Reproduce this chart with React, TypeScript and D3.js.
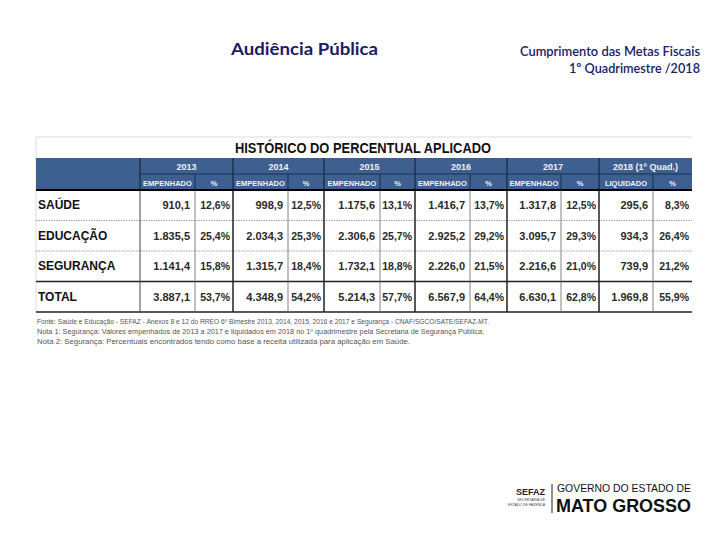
import React from "react";
import * as d3 from "d3";

const categories = ["SAÚDE", "EDUCAÇÃO", "SEGURANÇA", "TOTAL"];
const years = ["2013", "2014", "2015", "2016", "2017", "2018 (1º Quad.)"];
const subHeaders = ["EMPENHADO", "EMPENHADO", "EMPENHADO", "EMPENHADO", "EMPENHADO", "LIQUIDADO"];
// values per year, in category order (R$ milhões)
const values2013 = [910.1, 1835.5, 1141.4, 3887.1];
const values2014 = [998.9, 2034.3, 1315.7, 4348.9];
const values2015 = [1175.6, 2306.6, 1732.1, 5214.3];
const values2016 = [1416.7, 2925.2, 2226.0, 6567.9];
const values2017 = [1317.8, 3095.7, 2216.6, 6630.1];
const values2018 = [295.6, 934.3, 739.9, 1969.8];
const pct2013 = [12.6, 25.4, 15.8, 53.7];
const pct2014 = [12.5, 25.3, 18.4, 54.2];
const pct2015 = [13.1, 25.7, 18.8, 57.7];
const pct2016 = [13.7, 29.2, 21.5, 64.4];
const pct2017 = [12.5, 29.3, 21.0, 62.8];
const pct2018 = [8.3, 26.4, 21.2, 55.9];
const notes = [
  "Fonte: Saúde e Educação - SEFAZ - Anexos 8 e 12 do RREO 6º Bimestre 2013, 2014, 2015, 2016 e 2017 e Segurança - CNAF/SGCO/SATE/SEFAZ-MT.",
  "Nota 1: Segurança: Valores empenhados de 2013 a 2017 e liquidados em 2018 no 1º quadrimestre pela Secretaria de Segurança Pública;",
  "Nota 2: Segurança: Percentuais encontrados tendo como base a receita utilizada para aplicação em Saúde.",
];

const allValues = [values2013, values2014, values2015, values2016, values2017, values2018];
const allPcts = [pct2013, pct2014, pct2015, pct2016, pct2017, pct2018];

const locale = d3.formatLocale({ decimal: ",", thousands: ".", grouping: [3], currency: ["R$", ""] });
const fmtVal = locale.format(",.1f");
const fmtPct = (v: number) => locale.format(".1f")(v) + "%";

export default function App() {
  const W = 720, H = 540;
  const tableL = 36, tableR = 692, labelR = 140;
  const yearStarts = [140, 233, 324, 415, 507, 599];
  const yearEnds = [233, 324, 415, 507, 599, 692];
  const splitW = [55, 55, 56, 55, 54, 54];
  const rowY = d3.scaleBand<string>().domain(categories).range([190, 312]);
  const header = "#3d6090";
  const bodyFont = "'Liberation Sans', Arial, sans-serif";
  const cal = "Lato, 'Open Sans', sans-serif";

  return (
    <svg width={W} height={H} style={{ position: "absolute", left: 0, top: 0, background: "#fff" }}>
      {/* top titles */}
      <text x={231} y={55} fontFamily={cal} fontWeight={700} fontSize={17} fill="#1b1b66" textLength={147} lengthAdjust="spacingAndGlyphs">Audiência Pública</text>
      <text x={700} y={56} textAnchor="end" fontFamily={cal} fontWeight={600} fontSize={13} fill="#1b1b66" textLength={180} lengthAdjust="spacingAndGlyphs">Cumprimento das Metas Fiscais</text>
      <text x={700} y={73} textAnchor="end" fontFamily={cal} fontWeight={600} fontSize={13} fill="#1b1b66" textLength={131} lengthAdjust="spacingAndGlyphs">1º Quadrimestre /2018</text>

      {/* title row */}
      <line x1={tableL} x2={tableR} y1={137} y2={137} stroke="#ddd" strokeWidth={1} />
      <line x1={tableL} x2={tableL} y1={137} y2={312} stroke="#ddd" strokeWidth={1} />
      <text x={363} y={153} textAnchor="middle" fontFamily={bodyFont} fontWeight={700} fontSize={14} fill="#111" textLength={256} lengthAdjust="spacingAndGlyphs">HISTÓRICO DO PERCENTUAL APLICADO</text>

      {/* header block */}
      <rect x={tableL} y={158} width={tableR - tableL} height={32} fill={header} />
      <line x1={labelR} x2={tableR} y1={174} y2={174} stroke="#1d2f4c" strokeWidth={1.2} />
      {yearStarts.map((xs, i) => (
        <g key={"h" + i}>
          <line x1={xs} x2={xs} y1={158} y2={190} stroke="#1d2f4c" strokeWidth={1.4} />
          <line x1={xs + splitW[i]} x2={xs + splitW[i]} y1={174} y2={190} stroke="#1d2f4c" strokeWidth={1} />
          <text x={(xs + yearEnds[i]) / 2} y={170} textAnchor="middle" fontFamily={bodyFont} fontWeight={700} fontSize={9} fill="#eef1f6">{years[i]}</text>
          <text x={xs + splitW[i] / 2} y={186} textAnchor="middle" fontFamily={bodyFont} fontWeight={700} fontSize={7.5} fill="#eef1f6">{subHeaders[i]}</text>
          <text x={(xs + splitW[i] + yearEnds[i]) / 2} y={186} textAnchor="middle" fontFamily={bodyFont} fontWeight={700} fontSize={7.5} fill="#eef1f6">%</text>
        </g>
      ))}

      {/* body */}
      {categories.map((c, r) => {
        const y0 = rowY(c)!;
        const cy = y0 + rowY.bandwidth() / 2 + 4;
        return (
          <g key={c}>
            <text x={38} y={cy} fontFamily={bodyFont} fontWeight={700} fontSize={12} fill="#111">{c}</text>
            {yearStarts.map((xs, i) => (
              <g key={i}>
                <text x={xs + splitW[i] - 5} y={cy} textAnchor="end" fontFamily={bodyFont} fontWeight={700} fontSize={11} fill="#2a2a2a">{fmtVal(allValues[i][r])}</text>
                <text x={yearEnds[i] - 3} y={cy} textAnchor="end" fontFamily={bodyFont} fontWeight={700} fontSize={10.5} fill="#2a2a2a">{fmtPct(allPcts[i][r])}</text>
              </g>
            ))}
          </g>
        );
      })}
      {/* horizontal rules */}
      <line x1={tableL} x2={tableR} y1={190} y2={190} stroke="#000" strokeWidth={2.2} />
      {[categories[1], categories[2]].map((c) => (
        <line key={c} x1={tableL} x2={tableR} y1={rowY(c)!} y2={rowY(c)!} stroke="#888" strokeWidth={0.8} strokeDasharray="1.5,1" />
      ))}
      <line x1={tableL} x2={tableR} y1={rowY(categories[3])!} y2={rowY(categories[3])!} stroke="#222" strokeWidth={1.6} />
      <line x1={tableL} x2={tableR} y1={312} y2={312} stroke="#222" strokeWidth={1.4} />
      {/* vertical rules */}
      <line x1={labelR} x2={labelR} y1={190} y2={312} stroke="#444" strokeWidth={1} />
      {yearStarts.map((xs, i) => (
        <g key={"v" + i}>
          {i > 0 && <line x1={xs} x2={xs} y1={190} y2={312} stroke="#222" strokeWidth={1.5} />}
          <line x1={xs + splitW[i]} x2={xs + splitW[i]} y1={190} y2={312} stroke="#666" strokeWidth={0.8} />
        </g>
      ))}

      {/* notes */}
      {notes.map((n, i) => (
        <text key={i} x={37} y={324 + i * 10} fontFamily={bodyFont} fontSize={7} fill="#555" textLength={[452, 447, 373][i]} lengthAdjust="spacingAndGlyphs">{n}</text>
      ))}

      {/* logo */}
      <text x={545} y={495} textAnchor="end" fontFamily={bodyFont} fontWeight={700} fontSize={9} fill="#222">SEFAZ</text>
      <text x={545} y={501} textAnchor="end" fontFamily={bodyFont} fontSize={3.5} fill="#444">SECRETARIA DE</text>
      <text x={545} y={506} textAnchor="end" fontFamily={bodyFont} fontSize={3.5} fill="#444">ESTADO DE FAZENDA</text>
      <line x1={552} x2={552} y1={484} y2={513} stroke="#222" strokeWidth={1} />
      <text x={557} y={492} fontFamily={bodyFont} fontSize={11.5} fill="#111" textLength={134} lengthAdjust="spacingAndGlyphs">GOVERNO DO ESTADO DE</text>
      <text x={556} y={512} fontFamily={bodyFont} fontWeight={700} fontSize={19} fill="#111" textLength={135} lengthAdjust="spacingAndGlyphs">MATO GROSSO</text>
    </svg>
  );
}
